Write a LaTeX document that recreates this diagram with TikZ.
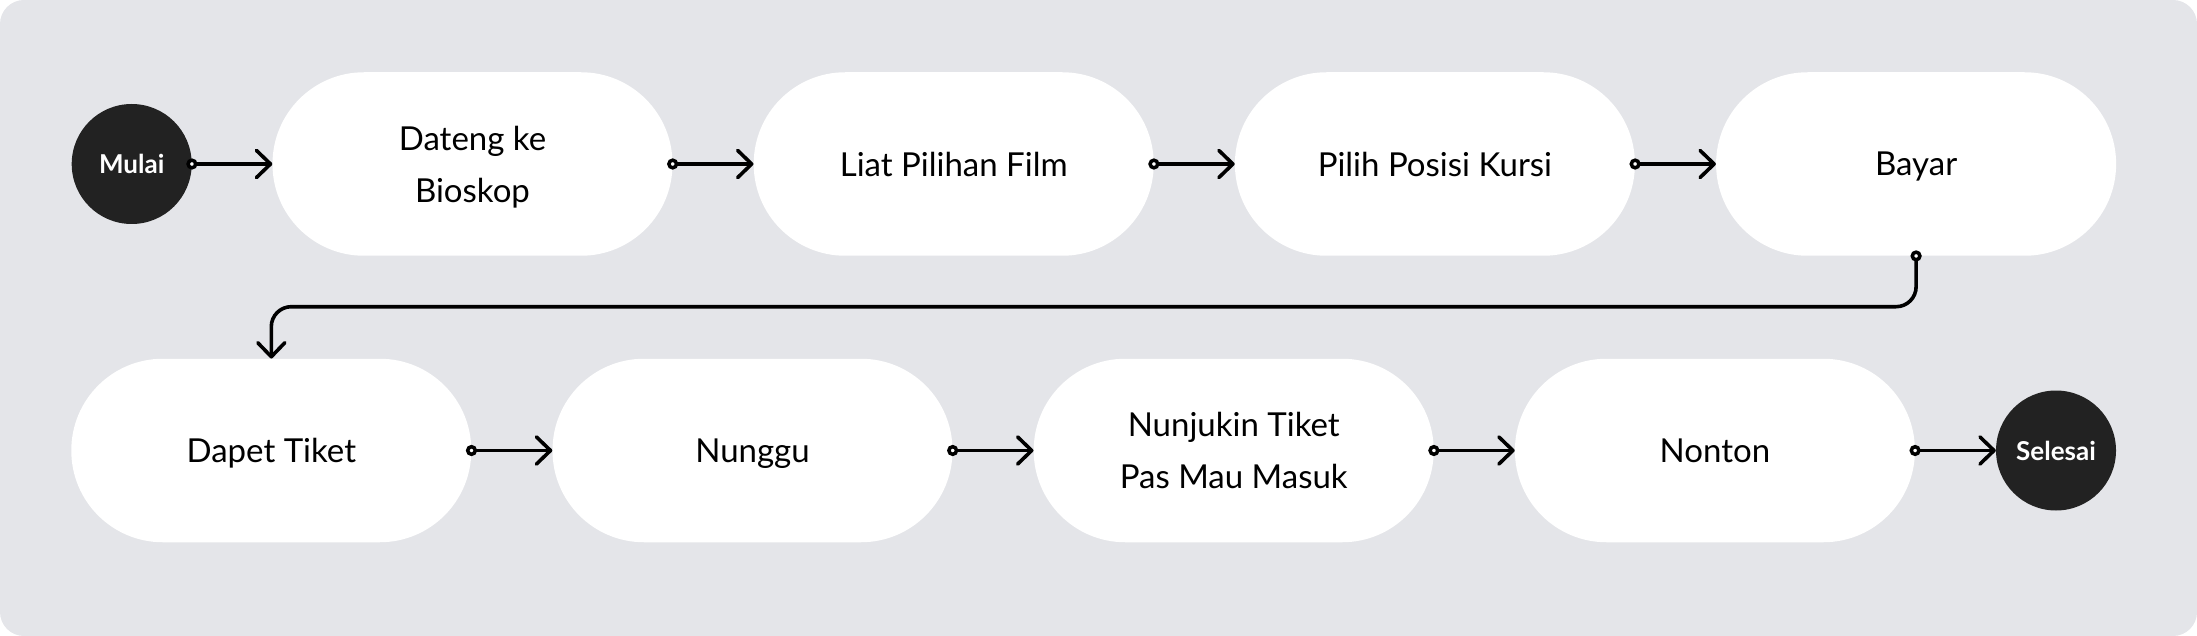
\documentclass[tikz,border=0pt]{standalone}
\usepackage{fontspec}
\setmainfont{Lato}
\usetikzlibrary{arrows.meta}
\definecolor{bgc}{HTML}{E4E5E9}
\definecolor{darkc}{HTML}{222222}
\newcommand\conndot[1]{\draw[line width=3.5pt, fill=white] (#1) circle (3.8pt);}
\begin{document}
\begin{tikzpicture}[x=1pt,y=-1pt,
  stepbox/.style={fill=white, rectangle, rounded corners=91.5pt, minimum width=400pt, minimum height=183.5pt, align=center, font=\fontsize{33}{52}\selectfont, inner sep=0pt, text depth=0pt},
  term/.style={circle, fill=darkc, minimum size=120pt, inner sep=0pt, text=white, font=\fontsize{26}{30}\selectfont\bfseries},
  conn/.style={line width=3.6pt, -{Straight Barb[length=14pt,width=27pt,round]}},
  elbowconn/.style={line width=3.6pt, rounded corners=20pt, -{Straight Barb[length=14pt,width=27pt,round]}}
]
\useasboundingbox (0,0) rectangle (2197,636);
\fill[bgc, rounded corners=24pt] (0,0) rectangle (2197,636);

\node[term] (mulai) at (131.7,164) {Mulai};
\node[stepbox] (b1) at (472.5,164) {Dateng ke\\Bioskop};
\node[stepbox] (b2) at (953.7,164) {Liat Pilihan Film};
\node[stepbox] (b3) at (1434.9,164) {Pilih Posisi Kursi};
\node[stepbox] (b4) at (1916.1,164) {Bayar};

\node[stepbox] (c1) at (271.3,450.5) {Dapet Tiket};
\node[stepbox] (c2) at (752.5,450.5) {Nunggu};
\node[stepbox] (c3) at (1233.7,450.5) {Nunjukin Tiket\\Pas Mau Masuk};
\node[stepbox] (c4) at (1714.9,450.5) {Nonton};
\node[term] (selesai) at (2056,450.5) {Selesai};

\coordinate (midrow) at (0,306.7);

\draw[conn] (mulai.east) -- (b1.west); \conndot{mulai.east}
\draw[conn] (b1.east) -- (b2.west); \conndot{b1.east}
\draw[conn] (b2.east) -- (b3.west); \conndot{b2.east}
\draw[conn] (b3.east) -- (b4.west); \conndot{b3.east}
\draw[elbowconn] (b4.south) -- (b4.south |- midrow) -| (c1.north); \conndot{b4.south}
\draw[conn] (c1.east) -- (c2.west); \conndot{c1.east}
\draw[conn] (c2.east) -- (c3.west); \conndot{c2.east}
\draw[conn] (c3.east) -- (c4.west); \conndot{c3.east}
\draw[conn] (c4.east) -- (selesai.west); \conndot{c4.east}
\end{tikzpicture}
\end{document}
